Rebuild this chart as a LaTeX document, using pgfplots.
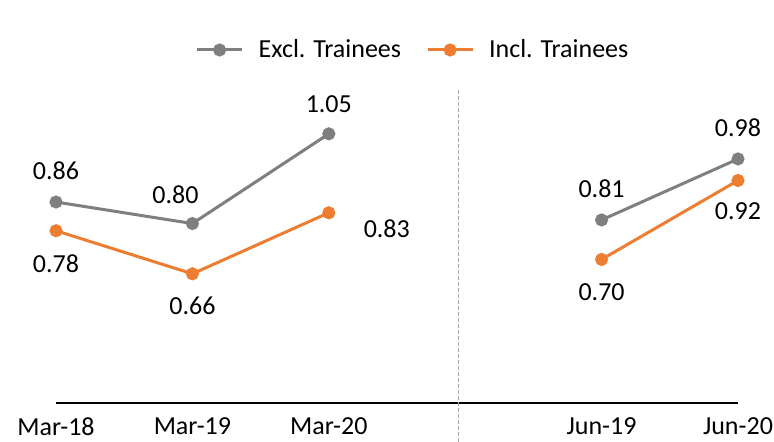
\documentclass[border=0pt]{standalone}
\usepackage{fontspec}
\setmainfont{Carlito}
\usepackage{pgfplots}
\usepackage{pgfplotstable}
\pgfplotsset{compat=1.18}
\definecolor{exclgray}{HTML}{7F7F7F}
\definecolor{inclorange}{HTML}{ED7D31}
\definecolor{divgray}{HTML}{A6A6A6}
\pgfplotstableread{
x y dx dy
0 0.86 0 15.75
1 0.80 -8.5 14.5
2 1.05 0 15
3 nan 0 0
4 0.81 0 15.5
5 0.98 0 15.5
}\excl
\pgfplotstableread{
x y dx dy
0 0.78 0 -16.5
1 0.66 0 -16
2 0.83 29 -8
3 nan 0 0
4 0.70 0 -16.5
5 0.92 0 -15.5
}\incl
\begin{document}
\begin{tikzpicture}
\begin{axis}[
  scale only axis,
  width=341pt, height=161.5pt,
  xmin=0, xmax=5, ymin=0.3, ymax=1.2,
  enlargelimits=false,
  clip=false,
  axis y line=none,
  axis x line*=bottom,
  x axis line style={-, black, line width=0.7pt},
  xtick={0,1,2,4,5},
  xticklabels={Mar-18,Mar-19,Mar-20,Jun-19,Jun-20},
  major tick length=0pt,
  xtick style={draw=none},
  xticklabel style={font=\fontsize{13}{15.6}\selectfont, anchor=center, yshift=-11.75pt},
  /pgf/number format/assume math mode=true,
  unbounded coords=jump,
  nodes near coords,
  point meta=explicit,
  visualization depends on={\thisrow{dx}\as\dx},
  visualization depends on={\thisrow{dy}\as\dy},
  nodes near coords style={/pgf/number format/fixed, /pgf/number format/precision=2, /pgf/number format/fixed zerofill, font=\fontsize{13}{15.6}\selectfont, text=black, anchor=center, inner sep=0pt, xshift=\dx pt, yshift=\dy pt},
  legend columns=2,
  legend style={draw=none, fill=none, at={(0.522,1)}, anchor=center, yshift=15pt, font=\fontsize{13}{15.6}\selectfont, inner sep=0pt,
    /tikz/every even column/.append style={column sep=12.5pt},
    /tikz/every odd column/.append style={column sep=7.5pt},
    nodes={inner sep=0pt, anchor=west}},
  legend image code/.code={\draw[mark repeat=2, mark phase=2, #1] plot coordinates {(0pt,0pt)(11.25pt,0pt)(22.5pt,0pt)};},
]
\addplot[exclgray, line width=1.5pt, mark=*, mark size=2.5pt, mark options={fill=exclgray, draw=exclgray}]
  table[x=x, y=y, meta=y] {\excl};
\addlegendentry{Excl. Trainees}
\addplot[inclorange, line width=1.5pt, mark=*, mark size=2.5pt, mark options={fill=inclorange, draw=inclorange}]
  table[x=x, y=y, meta=y] {\incl};
\addlegendentry{Incl. Trainees}
\draw[divgray, line width=0.5pt, dash pattern=on 2pt off 1pt] (axis cs:2.95,1.172) -- ([yshift=-19.5pt]axis cs:2.95,0.3);
\end{axis}
\pgfresetboundingbox
\path ([shift={(-28pt,-19.5pt)}]current axis.south west) rectangle ([shift={(18pt,40pt)}]current axis.north east);
\end{tikzpicture}
\end{document}
